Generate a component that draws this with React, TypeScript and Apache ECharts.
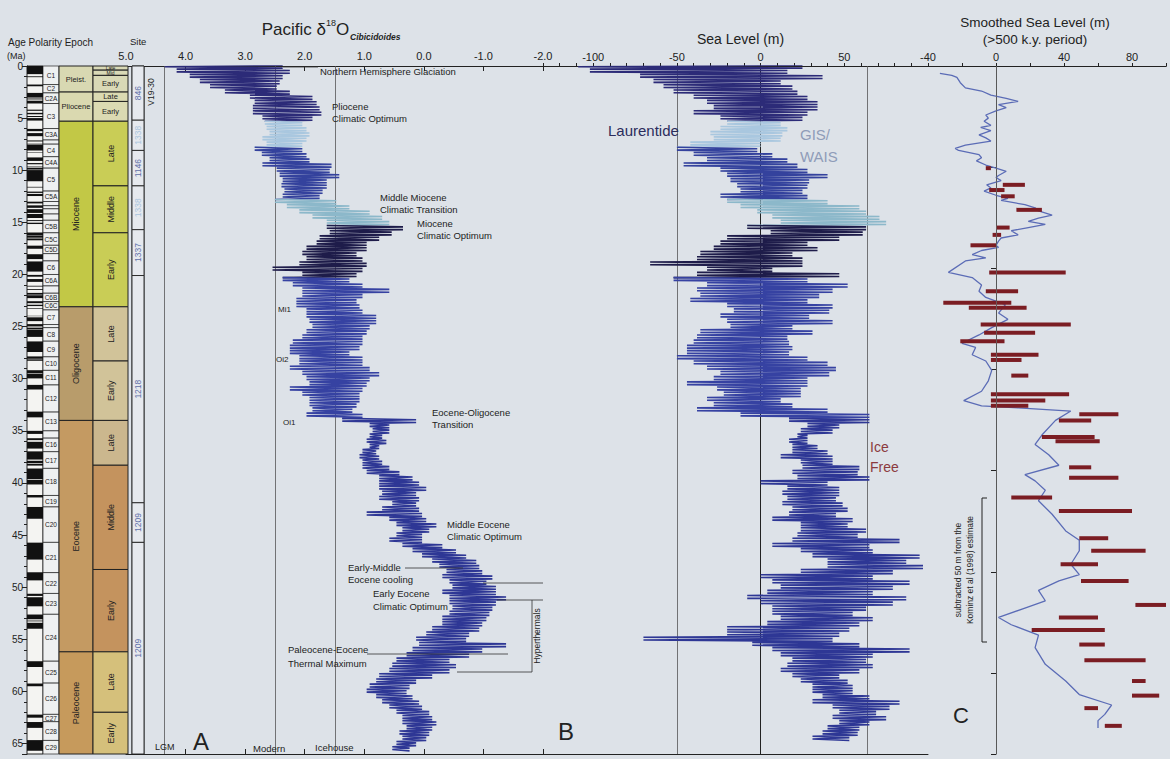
import React, { useEffect, useRef } from "react";
import * as echarts from "echarts";

const FONT = "'Liberation Sans', Arial, Helvetica, sans-serif";
const AGE_MAX = 66;

// ---------- Panel A: Pacific benthic d18O envelope (per 0.5 Ma row) ----------
const A_AGE = [
  0, 0.5, 1, 1.5, 2, 2.5, 3, 3.5, 4, 4.5,
  5, 5.5, 6, 6.5, 7, 7.5, 8, 8.5, 9, 9.5,
  10, 10.5, 11, 11.5, 12, 12.5, 13, 13.5, 14, 14.5,
  15, 15.5, 16, 16.5, 17, 17.5, 18, 18.5, 19, 19.5,
  20, 20.5, 21, 21.5, 22, 22.5, 23, 23.5, 24, 24.5,
  25, 25.5, 26, 26.5, 27, 27.5, 28, 28.5, 29, 29.5,
  30, 30.5, 31, 31.5, 32, 32.5, 33, 33.5, 34, 34.5,
  35, 35.5, 36, 36.5, 37, 37.5, 38, 38.5, 39, 39.5,
  40, 40.5, 41, 41.5, 42, 42.5, 43, 43.5, 44, 44.5,
  45, 45.5, 46, 46.5, 47, 47.5, 48, 48.5, 49, 49.5,
  50, 50.5, 51, 51.5, 52, 52.5, 53, 53.5, 54, 54.5,
  55, 55.5, 56, 56.5, 57, 57.5, 58, 58.5, 59, 59.5,
  60, 60.5, 61, 61.5, 62, 62.5, 63, 63.5, 64, 64.5,
  65, 65.5,
];
const A_HEAVY = [
  4.35, 4.15, 3.93, 3.76, 3.59, 3.34, 2.92, 2.84, 2.87, 2.87,
  2.71, 2.67, 2.64, 2.59, 2.71, 2.64, 2.84, 2.72, 2.59, 2.71,
  2.47, 2.42, 2.37, 2.39, 2.34, 2.37, 2.5, 2.3, 2.09, 1.87,
  1.63, 1.63, 1.58, 1.75, 1.8, 1.97, 2.04, 1.97, 2.09, 2.54,
  2.04, 2.37, 2.2, 2.04, 2.04, 2.14, 2.14, 1.97, 1.97, 1.92,
  1.87, 1.97, 2.04, 2.2, 2.25, 2.25, 2.09, 2.09, 2.25, 2.04,
  1.97, 1.92, 2.25, 2.04, 1.92, 1.92, 1.87, 1.97, 1.37, 0.91,
  0.86, 0.91, 0.96, 0.91, 1.03, 1.08, 1.03, 1.03, 0.96, 0.75,
  0.75, 0.75, 0.7, 0.75, 0.53, 0.7, 0.96, 0.58, 0.46, 0.36,
  0.46, 0.58, 0.36, 0.19, 0.03, -0.14, -0.26, -0.38, -0.31, -0.43,
  -0.48, -0.31, -0.43, -0.43, -0.48, -0.43, -0.31, -0.31, -0.14, -0.04,
  0.13, 0.08, 0.19, 0.29, 0.46, 0.53, 0.58, 0.75, 0.8, 0.91,
  0.96, 0.8, 0.7, 0.58, 0.46, 0.36, 0.36, 0.29, 0.41, 0.36,
  0.46, 0.53,
];
const A_LIGHT = [
  2.37, 2.25, 2.37, 2.42, 2.47, 2.25, 1.87, 1.8, 1.75, 1.72,
  1.87, 2.04, 1.97, 1.92, 1.97, 2.04, 2.04, 1.97, 1.92, 1.55,
  1.58, 1.42, 1.63, 1.63, 1.7, 1.75, 1.47, 1.25, 0.91, 0.7,
  0.58, 0.35, 0.54, 0.75, 0.96, 0.96, 1.13, 1.03, 0.96, 1.03,
  1.13, 1.25, 1.03, 0.58, 1.03, 1.13, 1.08, 1.03, 0.8, 0.8,
  0.91, 0.96, 1.03, 1.03, 1.08, 1.25, 1.03, 1.03, 0.91, 0.75,
  0.91, 0.96, 1.03, 1.08, 1.08, 1.13, 1.2, 1.03, 0.13, 0.58,
  0.58, 0.7, 0.63, 0.75, 0.8, 0.75, 0.7, 0.58, 0.41, 0.19,
  0.08, -0.04, 0.13, 0.08, 0.13, 0.08, 0.03, -0.04, -0.21, -0.09,
  0.03, 0.03, -0.31, -0.54, -0.71, -0.88, -0.93, -0.98, -1.15, -1.05,
  -1.21, -1.21, -1.38, -1.21, -1.15, -1.1, -1.05, -0.98, -0.93, -0.76,
  -0.71, -1.38, -0.98, -0.76, -0.43, -0.54, -0.43, -0.14, 0.13, 0.24,
  0.29, 0.19, 0.08, 0.03, -0.09, -0.14, -0.21, -0.14, -0.09, -0.04,
  0.13, 0.24,
];

// ---------- Panel B: sea level envelope (m) ----------
const B_AGE = [
  0, 0.5, 1, 1.5, 2, 2.5, 3, 3.5, 4, 4.5,
  5, 5.5, 6, 6.5, 7, 7.5, 8, 8.5, 9, 9.5,
  10, 10.5, 11, 11.5, 12, 12.5, 13, 13.5, 14, 14.5,
  15, 15.5, 16, 16.5, 17, 17.5, 18, 18.5, 19, 19.5,
  20, 20.5, 21, 21.5, 22, 22.5, 23, 23.5, 24, 24.5,
  25, 25.5, 26, 26.5, 27, 27.5, 28, 28.5, 29, 29.5,
  30, 30.5, 31, 31.5, 32, 32.5, 33, 33.5, 34, 34.5,
  35, 35.5, 36, 36.5, 37, 37.5, 38, 38.5, 39, 39.5,
  40, 40.5, 41, 41.5, 42, 42.5, 43, 43.5, 44, 44.5,
  45, 45.5, 46, 46.5, 47, 47.5, 48, 48.5, 49, 49.5,
  50, 50.5, 51, 51.5, 52, 52.5, 53, 53.5, 54, 54.5,
  55, 55.5, 56, 56.5, 57, 57.5, 58, 58.5, 59, 59.5,
  60, 60.5, 61, 61.5, 62, 62.5, 63, 63.5, 64, 64.5,
];
const B_LOW = [
  -109, -102, -72, -64, -58, -52, -40, -32, -28, -40,
  -24, -20, -24, -30, -28, -42, -50, -40, -32, -46,
  -24, -20, -18, -14, -12, -24, -20, -12, -2, 7,
  12, -8, 6, -20, -24, -28, -36, -38, -66, -32,
  -38, -52, -32, -38, -36, -42, -20, -16, -24, -20,
  -18, -36, -38, -40, -44, -44, -50, -40, -32, -24,
  -28, -44, -26, -22, -32, -28, -38, -12, 17, 28,
  24, 22, 17, 19, 19, 12, 24, 25, 19, 22,
  0, 16, 13, 16, 13, 19, 17, 7, 24, 24,
  22, 19, 7, 24, 31, 40, 40, 24, 0, 7,
  12, 4, -8, 0, 7, 7, 12, 4, -20, -20,
  -70, -5, 7, 12, 19, 16, 12, 19, 24, 31,
  31, 37, 31, 43, 47, 43, 47, 40, 37, 31,
];
const B_HIGH = [
  25, 16, 37, 12, 19, 22, 28, 34, 34, 28,
  25, 12, 16, 13, 12, 0, -2, 7, 16, 22,
  28, 40, 29, 28, 25, 28, 40, 59, 63, 71,
  75, 63, 61, 47, 28, 34, 19, 25, 25, 7,
  47, 28, 52, 43, 35, 28, 43, 41, 29, 43,
  19, 31, 16, 17, 19, 17, 28, 40, 45, 41,
  28, 28, 24, 24, 12, 19, 40, 65, 65, 47,
  43, 28, 28, 34, 40, 43, 43, 59, 58, 65,
  40, 47, 47, 45, 49, 52, 45, 55, 52, 63,
  58, 83, 65, 67, 95, 87, 97, 79, 67, 89,
  79, 67, 87, 79, 63, 55, 67, 59, 53, 47,
  43, 59, 89, 67, 63, 67, 59, 47, 52, 55,
  55, 65, 83, 77, 69, 75, 65, 59, 58, 53,
];

// colour segments by site splice (age breaks, Ma)
const SEG_BREAKS = [5.25, 7.75, 12.75, 15.25, 20.25, 33.75];
const SEG_COLORS = ["#2c2b78", "#a9c7df", "#34429d", "#8cb8ca", "#1e1c4a", "#3642a2", "#2e3795"];

// ---------- Panel C: smoothed sea level ----------
const C_AGE = [
  0.7, 0.9, 1.1, 1.6, 2.1, 2.4, 2.8, 3.1, 3.4, 3.7, 4.0, 4.3, 4.7, 5.0, 5.3, 5.7, 5.9, 6.2, 6.6, 6.9,
  7.2, 7.6, 7.9, 8.1, 8.5, 8.8, 9.1, 9.5, 9.8, 10.1, 10.5, 10.7, 11.0, 11.4, 11.7, 12.0, 12.4, 12.7, 12.9, 13.3,
  13.6, 13.9, 14.3, 14.6, 14.9, 15.2, 15.5, 15.8, 16.2, 16.5, 16.8, 17.2, 17.4, 17.7, 18.1, 18.4, 18.7, 19.8, 20.3, 21.0,
  21.6, 22.2, 22.9, 23.7, 24.3, 25.1, 25.8, 26.6, 27.0, 27.7, 28.3, 29.2, 30.2, 31.2, 32.1, 32.6, 32.8, 33.1, 34.0, 35.4,
  36.3, 37.3, 38.3, 39.2, 39.8, 40.7, 41.7, 43.0, 44.6, 45.5, 46.5, 47.8, 48.8, 49.4, 50.3, 51.3, 52.0, 52.9, 53.6, 54.6,
  55.8, 57.4, 59.0, 60.3, 61.3, 62.2, 62.8, 63.5,
];
const C_SEA = [
  -33, -26, -23, -21, -18, -8.5, -3, 6, 13, 1.5, 6, 0, -6, -4.5, -7, -3, -9, -3, -10, -6,
  -3, -18, -24, -22, -10, -8.5, -11.5, -6, 0, 6, 1.5, 0, 3, -5.5, -3, -7, 0, 7, 3, 17,
  23, 25, 33, 25, 19, 29, 19, 9, 13, 3, 1.5, 0, 1.5, -8.5, -14, -6, -18, -28, -14, -8.5,
  -10, -6, 5.5, 1.5, 7, -2.5, -10, -20, -12, -14, -6, -2.5, -4.5, -8.5, -19, -8.5, 13, 44, 35, 27,
  23, 31, 37, 17, 23, 29, 25, 33, 41, 49, 49, 44, 49, 37, 25, 29, 17, 1.5, 9, 25,
  23, 29, 41, 49, 68, 64, 60, 60,
];
// Kominz et al. (1998) minus 50 m: segments [age, from, to]
const K_AGE = [9.8, 11.4, 11.9, 12.5, 13.8, 15.5, 16.2, 17.2, 19.8, 21.6, 22.7, 23.2, 24.8, 25.6, 26.4, 27.7, 28.2, 29.7, 31.5, 32.1, 32.6, 33.4, 34.0, 35.6, 36.0, 38.5, 39.5, 41.4, 42.7, 45.3, 46.5, 47.8, 49.4, 51.7, 52.9, 54.1, 55.5, 57.0, 59.0, 60.4, 61.6, 63.3];
const K_FROM = [-6, 4, -4, 3, 12, 0, -2, -15, -4, -6, -31, -16, -9, -7, -21, -3, -3, 9, -3, -3, -3, 49, 37, 27, 35, 43, 43, 9, 37, 49, 56, 38, 50, 82, 37, 21, 49, 52, 80, 80, 52, 64];
const K_TO = [-3, 17, 5, 11, 27, 8, 3, 0, 41, 13, 9, 18, 44, 23, 5, 25, 15, 19, 43, 29, 19, 72, 56, 58, 61, 56, 72, 33, 80, 66, 88, 60, 78, 100, 60, 64, 64, 88, 88, 96, 60, 74];

// ---------- Stratigraphic columns ----------
const NORMAL_TOP = [0, 0.988, 1.778, 2.581, 3.116, 3.33, 4.187, 4.493, 4.799, 4.997, 6.033, 6.436, 7.14, 7.251, 7.454, 7.528, 8.254, 8.771, 9.311, 9.647, 9.786, 9.984, 11.592, 12.049, 12.272, 13.015, 13.369, 13.734, 14.194, 14.784, 15.032, 15.974, 16.303, 16.543, 17.235, 18.056, 18.748, 20.04, 20.439, 21.083, 21.403, 21.767, 21.992, 22.564, 22.902, 23.233, 23.962, 24.109, 24.761, 25.099, 25.304, 26.42, 27.859, 28.141, 29.183, 29.527, 30.591, 33.157, 34.999, 35.706, 36.051, 36.969, 37.872, 38.159, 38.615, 39.698, 41.154, 42.301, 45.724, 48.566, 50.628, 50.961, 52.62, 53.199, 53.416, 57.101, 59.239, 62.221, 62.933, 64.667];
const NORMAL_BASE = [0.781, 1.072, 1.945, 3.032, 3.207, 3.596, 4.3, 4.631, 4.896, 5.235, 6.252, 6.733, 7.212, 7.285, 7.489, 8.108, 8.3, 9.105, 9.426, 9.721, 9.937, 11.056, 11.657, 12.174, 12.474, 13.183, 13.605, 14.095, 14.581, 14.877, 15.16, 16.268, 16.472, 16.721, 17.533, 18.524, 19.722, 20.213, 20.709, 21.159, 21.483, 21.936, 22.268, 22.754, 23.03, 23.295, 24.0, 24.474, 24.984, 25.264, 25.987, 27.439, 28.087, 28.278, 29.477, 29.97, 31.034, 33.705, 35.294, 35.892, 36.7, 37.753, 38.093, 38.333, 39.627, 40.145, 41.39, 43.432, 47.349, 49.344, 50.835, 51.833, 53.074, 53.274, 53.983, 57.656, 59.5, 62.517, 63.494, 65.688];

const CHRON_NAME = ["C1", "C2", "C2A", "C3", "C3A", "", "C4", "C4A", "C5", "C5A", "", "", "", "", "C5B", "C5C", "C5D", "", "C6", "C6A", "", "C6B", "C6C", "C7", "", "C8", "C9", "C10", "C11", "C12", "C13", "", "C16", "C17", "C18", "C19", "C20", "C21", "C22", "C23", "C24", "C25", "C26", "C27", "C28", "C29"];
const CHRON_TOP = [0, 1.78, 2.58, 3.6, 6.0, 7.1, 7.5, 8.7, 9.8, 12.0, 13.0, 13.4, 13.7, 14.2, 14.8, 16.0, 17.2, 18.0, 18.7, 20.0, 21.1, 21.8, 22.6, 23.4, 24.8, 25.1, 26.4, 27.9, 29.2, 30.6, 33.2, 35.0, 35.7, 37.0, 38.6, 41.2, 42.3, 45.7, 48.6, 50.6, 52.6, 57.1, 59.2, 62.2, 62.9, 64.7];

const EPOCH_NAME = ["Pleist.", "Pliocene", "Miocene", "Oligocene", "Eocene", "Paleocene"];
const EPOCH_TOP = [0, 2.5, 5.3, 23.1, 34.0, 56.2];
const EPOCH_BASE = [2.5, 5.3, 23.1, 34.0, 56.2, 66];
const EPOCH_COLOR = ["#d8d8b2", "#dad9b0", "#c2c846", "#b89c6b", "#c49a62", "#c69a5c"];

const SUB_NAME = ["Late", "Mid", "Early", "Late", "Early", "Late", "Middle", "Early", "Late", "Early", "Late", "Middle", "Early", "Late", "Early"];
const SUB_TOP = [0, 0.4, 0.9, 2.5, 3.4, 5.3, 11.5, 16.0, 23.1, 28.3, 34.0, 38.3, 48.3, 56.2, 62.0];
const SUB_BASE = [0.4, 0.9, 2.5, 3.4, 5.3, 11.5, 16.0, 23.1, 28.3, 34.0, 38.3, 48.3, 56.2, 62.0, 66];
const SUB_COLOR = ["#d9d9b6", "#d9d9b6", "#d9d9b6", "#dbdab2", "#dbdab2", "#c9cd56", "#c9cd56", "#c9cd56", "#d1c399", "#d1c399", "#cbb78e", "#c4935e", "#c4935e", "#d5c07b", "#d5c07b"];

const SITE_NAME = ["846", "1338", "1146", "1338", "1337", "1218", "1209", "1209"];
const SITE_TOP = [0, 5.2, 8.1, 11.5, 15.7, 20.1, 41.9, 45.7];
const SITE_BASE = [5.2, 8.1, 11.5, 15.7, 20.1, 41.9, 45.7, 66];
const SITE_COLOR = ["#5f6fa8", "#a9c4dd", "#5f6fa8", "#a9c4dd", "#5f6fa8", "#5f6fa8", "#5f6fa8", "#5f6fa8"];

// reference lines
const A_REF_LINES = [4.36, 2.5, 1.48]; // LGM, Modern, Icehouse
const B_REF_LINES = [-50, 64];

// stroke offsets (Ma) inside each 0.5 Ma row, alternating heavy/light extremes
const ROW_STROKES = [-0.2, -0.067, 0.067, 0.2];

function boxSeries(x0: number, x1: number, tops: number[], bases: number[], fill: (i: number) => string, opts: any = {}) {
  return {
    type: "custom",
    xAxisIndex: 0,
    yAxisIndex: 0,
    silent: true,
    clip: false,
    z: opts.z ?? 2,
    data: tops.map((t, i) => [x0, t, bases[i]]),
    encode: { x: 0, y: [1, 2] },
    renderItem: (params: any, api: any) => {
      const i = params.dataIndex;
      const a = api.coord([x0, tops[i]]);
      const b = api.coord([x1, bases[i]]);
      const children: any[] = [
        {
          type: "rect",
          shape: { x: a[0], y: a[1], width: b[0] - a[0], height: b[1] - a[1] },
          style: { fill: fill(i), stroke: opts.stroke ?? "#222", lineWidth: opts.lw ?? 0.8 },
        },
      ];
      const lab = opts.label ? opts.label(i) : "";
      if (lab) {
        children.push({
          type: "text",
          x: (a[0] + b[0]) / 2,
          y: (a[1] + b[1]) / 2,
          rotation: opts.rot && opts.rot(i) ? Math.PI / 2 : 0,
          style: {
            text: lab,
            fill: opts.color ? opts.color(i) : "#222",
            fontSize: opts.fs ? opts.fs(i) : 8,
            fontFamily: FONT,
            align: "center",
            verticalAlign: "middle",
          },
        });
      }
      return { type: "group", children };
    },
  };
}

function bandSeries(ages: number[], lo: number[], hi: number[], xAxisIndex: number, yAxisIndex: number, refLines: number[]) {
  const pts = ages.map((a, i) => ROW_STROKES.map((o, k) => [k % 2 === 0 ? lo[i] : hi[i], a + o]));
  const segOf = (a: number) => SEG_BREAKS.filter((b) => a > b).length;
  const out: any[] = [];
  for (let s = 0; s < SEG_COLORS.length; s++) {
    const data: number[][] = [];
    let last = -1;
    ages.forEach((a, i) => {
      if (segOf(a) === s) {
        data.push(...pts[i]);
        last = i;
      }
    });
    if (last >= 0 && last + 1 < ages.length) data.push(pts[last + 1][0]);
    const ser: any = {
      type: "line",
      xAxisIndex,
      yAxisIndex,
      data,
      symbol: "none",
      silent: true,
      z: 3,
      lineStyle: { color: SEG_COLORS[s], width: 1.6 },
    };
    if (s === 0) {
      ser.markLine = {
        silent: true,
        symbol: ["none", "none"],
        label: { show: false },
        lineStyle: { color: "#555", width: 0.8, type: "solid" },
        data: refLines.map((v) => ({ xAxis: v })),
        z: 1,
      };
    }
    out.push(ser);
  }
  return out;
}

function txt(text: string, x: number, y: number, fs = 9.5, extra: any = {}) {
  return {
    type: "text",
    x,
    y,
    z: 100,
    rotation: extra.rotation || 0,
    style: {
      text,
      fontSize: fs,
      fontFamily: FONT,
      fill: extra.fill || "#222",
      align: extra.align || "left",
      verticalAlign: "middle",
      fontStyle: extra.fontStyle || "normal",
      fontWeight: extra.fontWeight || "normal",
    },
  };
}
function ln(x1: number, y1: number, x2: number, y2: number, color = "#333", w = 0.8) {
  return { type: "line", z: 100, shape: { x1, y1, x2, y2 }, style: { stroke: color, lineWidth: w } };
}

export default function App() {
  const ref = useRef<HTMLDivElement>(null);
  useEffect(() => {
    document.body.style.margin = "0";
    if (!ref.current) return;
    const chart = echarts.init(ref.current, null, { renderer: "svg" });
    const TOP = 66;
    const H = 688;
    const ageAxisHidden = (gridIndex: number) => ({
      type: "value", gridIndex, min: 0, max: AGE_MAX, inverse: true, show: false,
    });

    const chronBase = CHRON_TOP.map((t, i) => (i + 1 < CHRON_TOP.length ? CHRON_TOP[i + 1] : AGE_MAX));

    const option: any = {
      animation: false,
      backgroundColor: "#dde2e8",
      textStyle: { fontFamily: FONT },
      grid: [
        { left: 27, top: TOP, width: 117, height: H },
        { left: 126, top: TOP, width: 417, height: H },
        { left: 543, top: TOP, width: 385, height: H },
        { left: 928, top: TOP, width: 238, height: H },
      ],
      xAxis: [
        { type: "value", gridIndex: 0, min: 0, max: 117, show: false },
        {
          type: "value", gridIndex: 1, position: "top", min: -2, max: 5, inverse: true, interval: 1,
          axisLine: { lineStyle: { color: "#222", width: 1.2 } },
          axisTick: { inside: true, length: 5, lineStyle: { color: "#222" } },
          axisLabel: { formatter: (v: number) => v.toFixed(1), fontSize: 11, color: "#222", margin: 5, fontFamily: FONT },
          splitLine: { show: false },
        },
        {
          type: "value", gridIndex: 1, position: "bottom", min: -2, max: 5, inverse: true, interval: 1,
          axisLine: { lineStyle: { color: "#222", width: 1 } },
          axisTick: { inside: true, length: 5, lineStyle: { color: "#222" } },
          axisLabel: { show: false },
          splitLine: { show: false },
        },
        {
          type: "value", gridIndex: 2, position: "top", min: -130, max: 100, interval: 10,
          axisLine: { lineStyle: { color: "#222", width: 1.2 } },
          axisTick: { length: 3, lineStyle: { color: "#222" } },
          axisLabel: {
            formatter: (v: number) => (v % 50 === 0 && v < 100 ? String(v) : ""),
            fontSize: 11, color: "#222", margin: 4, fontFamily: FONT,
          },
          splitLine: { show: false },
        },
        {
          type: "value", gridIndex: 2, position: "bottom", min: -130, max: 100,
          axisLine: { lineStyle: { color: "#222", width: 1 } },
          axisTick: { show: false }, axisLabel: { show: false }, splitLine: { show: false },
        },
        {
          type: "value", gridIndex: 3, position: "top", min: -40, max: 100, interval: 20,
          axisLine: { lineStyle: { color: "#222", width: 1.2 } },
          axisTick: { length: 3, lineStyle: { color: "#222" } },
          axisLabel: {
            formatter: (v: number) => (v % 40 === 0 ? String(v) : ""),
            fontSize: 11, color: "#222", margin: 4, fontFamily: FONT,
          },
          splitLine: { show: false },
        },
        {
          type: "value", gridIndex: 3, position: "bottom", min: -40, max: 100,
          axisLine: { lineStyle: { color: "#222", width: 1 } },
          axisTick: { show: false }, axisLabel: { show: false }, splitLine: { show: false },
        },
      ],
      yAxis: [
        {
          type: "value", gridIndex: 0, min: 0, max: AGE_MAX, inverse: true, interval: 5, position: "left",
          axisLine: { show: true, lineStyle: { color: "#222", width: 1 } },
          axisTick: { show: true, length: 5, lineStyle: { color: "#222" } },
          minorTick: { show: true, splitNumber: 5, length: 3, lineStyle: { color: "#222" } },
          axisLabel: {
            fontSize: 10, color: "#222", margin: 4, fontFamily: FONT,
            formatter: (v: number) => (v <= 65 ? String(v) : ""),
          },
          splitLine: { show: false },
        },
        ageAxisHidden(1),
        {
          type: "value", gridIndex: 2, min: 0, max: AGE_MAX, inverse: true,
          axisLine: { show: true, lineStyle: { color: "#222", width: 1 } },
          axisTick: { show: false }, axisLabel: { show: false }, splitLine: { show: false },
        },
        ageAxisHidden(3),
        {
          type: "value", gridIndex: 3, min: 0, max: 68, inverse: true, interval: 10,
          axisLine: { show: true, lineStyle: { color: "#222", width: 1 } },
          axisTick: { inside: true, length: 5, lineStyle: { color: "#222" } },
          axisLabel: { show: false }, splitLine: { show: false },
        },
      ],
      series: [
        boxSeries(0, 16, [0], [AGE_MAX], () => "#f4f4f2", { lw: 1 }),
        boxSeries(0, 16, NORMAL_TOP, NORMAL_BASE, () => "#111", { lw: 0, stroke: "#111", z: 3 }),
        boxSeries(16, 32, CHRON_TOP, chronBase, () => "#eef0f1", {
          lw: 0.7, label: (i: number) => CHRON_NAME[i], fs: () => 6.5, color: () => "#222",
        }),
        boxSeries(32, 66, EPOCH_TOP, EPOCH_BASE, (i) => EPOCH_COLOR[i], {
          lw: 1, label: (i: number) => EPOCH_NAME[i], rot: (i: number) => i >= 2,
          fs: (i: number) => (i < 2 ? 7.5 : 9), color: () => "#222",
        }),
        boxSeries(66, 101, SUB_TOP, SUB_BASE, (i) => SUB_COLOR[i], {
          lw: 1, label: (i: number) => SUB_NAME[i], rot: (i: number) => i >= 5,
          fs: (i: number) => (i < 2 ? 5 : i < 5 ? 7.5 : 9), color: () => "#222",
        }),
        boxSeries(105, 117, [0], [AGE_MAX], () => "#e3e7ec", { lw: 0.9 }),
        boxSeries(105, 117, SITE_TOP, SITE_BASE, () => "#e6e9ee", {
          lw: 0.9, label: (i: number) => SITE_NAME[i], rot: () => true, fs: () => 8.5,
          color: (i: number) => SITE_COLOR[i], z: 3,
        }),
        ...bandSeries(A_AGE, A_HEAVY, A_LIGHT, 1, 1, A_REF_LINES),
        ...bandSeries(B_AGE, B_LOW, B_HIGH, 3, 2, B_REF_LINES),
        {
          type: "line",
          xAxisIndex: 5,
          yAxisIndex: 3,
          data: C_SEA.map((v, i) => [v, C_AGE[i]]),
          symbol: "none",
          silent: true,
          z: 3,
          lineStyle: { color: "#5b6cb6", width: 1.3 },
          markLine: {
            silent: true, symbol: ["none", "none"], label: { show: false },
            lineStyle: { color: "#666", width: 0.8, type: "solid" },
            data: [{ xAxis: 0 }],
          },
        },
        {
          type: "custom",
          xAxisIndex: 5,
          yAxisIndex: 3,
          silent: true,
          z: 4,
          data: K_AGE.map((a, i) => [K_FROM[i], a, K_TO[i]]),
          encode: { x: [0, 2], y: 1 },
          renderItem: (params: any, api: any) => {
            const i = params.dataIndex;
            const p = api.coord([K_FROM[i], K_AGE[i]]);
            const q = api.coord([K_TO[i], K_AGE[i]]);
            return {
              type: "line",
              shape: { x1: p[0], y1: p[1], x2: q[0], y2: q[1] },
              style: { stroke: "#7b1d23", lineWidth: 4, lineCap: "butt" },
            };
          },
        },
      ],
      graphic: [
        txt("Age Polarity Epoch", 8, 42, 10),
        txt("(Ma)", 7, 56, 9),
        txt("Site", 130, 41, 9.5),
        txt("V19-30", 151, 92, 8.5, { rotation: Math.PI / 2, align: "center" }),
        txt("Pacific δ", 326, 29, 17, { align: "right" }),
        txt("18", 326, 23, 9),
        txt("O", 336, 29, 17),
        txt("Cibicidoides", 350, 37, 8.5, { fontStyle: "italic", fontWeight: "bold" }),
        txt("Sea Level (m)", 697, 39, 14),
        txt("Smoothed Sea Level (m)", 1035, 22, 13.5, { align: "center" }),
        txt("(>500 k.y. period)", 1035, 39, 13.5, { align: "center" }),
        txt("Northern Hemisphere Glaciation", 320, 71, 9.5),
        txt("Pliocene", 332, 106),
        txt("Climatic Optimum", 332, 118),
        txt("Middle Miocene", 380, 197),
        txt("Climatic Transition", 380, 209),
        txt("Miocene", 417, 223),
        txt("Climatic Optimum", 417, 235),
        txt("Mi1", 278, 309, 8),
        txt("Oi2", 276, 359, 8),
        txt("Oi1", 283, 422, 8),
        txt("Eocene-Oligocene", 432, 412),
        txt("Transition", 432, 424),
        txt("Middle Eocene", 447, 524),
        txt("Climatic Optimum", 447, 536),
        txt("Early-Middle", 348, 567),
        txt("Eocene cooling", 348, 579),
        txt("Early Eocene", 373, 593),
        txt("Climatic Optimum", 373, 606),
        txt("Paleocene-Eocene", 288, 649),
        txt("Thermal Maximum", 288, 663),
        txt("Hyperthermals", 537, 636, 8.5, { rotation: Math.PI / 2, align: "center" }),
        txt("LGM", 155, 747, 9),
        txt("A", 193, 741, 24),
        txt("Modern", 253, 748, 9.5),
        txt("Icehouse", 315, 747, 9.5),
        txt("Laurentide", 608, 130, 15, { fill: "#2b2d5c" }),
        txt("GIS/", 800, 134, 15, { fill: "#8f9cb8" }),
        txt("WAIS", 800, 156, 15, { fill: "#8f9cb8" }),
        txt("Ice", 870, 447, 14, { fill: "#8b3a3e" }),
        txt("Free", 870, 467, 14, { fill: "#8b3a3e" }),
        txt("B", 558, 731, 24),
        txt("C", 953, 715, 22),
        txt("subtracted 50 m from the", 958, 570, 8.5, { rotation: Math.PI / 2, align: "center" }),
        txt("Kominz et al (1998) estimate", 970, 570, 8.5, { rotation: Math.PI / 2, align: "center" }),
        ln(283, 67, 318, 67),
        ln(405, 568, 463, 568),
        ln(367, 654, 508, 654),
        ln(483, 583, 543, 583),
        ln(497, 600, 543, 600),
        ln(457, 672, 532, 672),
        ln(532, 600, 532, 672),
        ln(982, 498, 982, 642, "#222", 1),
        ln(982, 498, 987, 498, "#222", 1),
        ln(982, 642, 987, 642, "#222", 1),
      ],
    };
    chart.setOption(option);
    return () => chart.dispose();
  }, []);
  return <div ref={ref} style={{ width: 1170, height: 759 }} />;
}
